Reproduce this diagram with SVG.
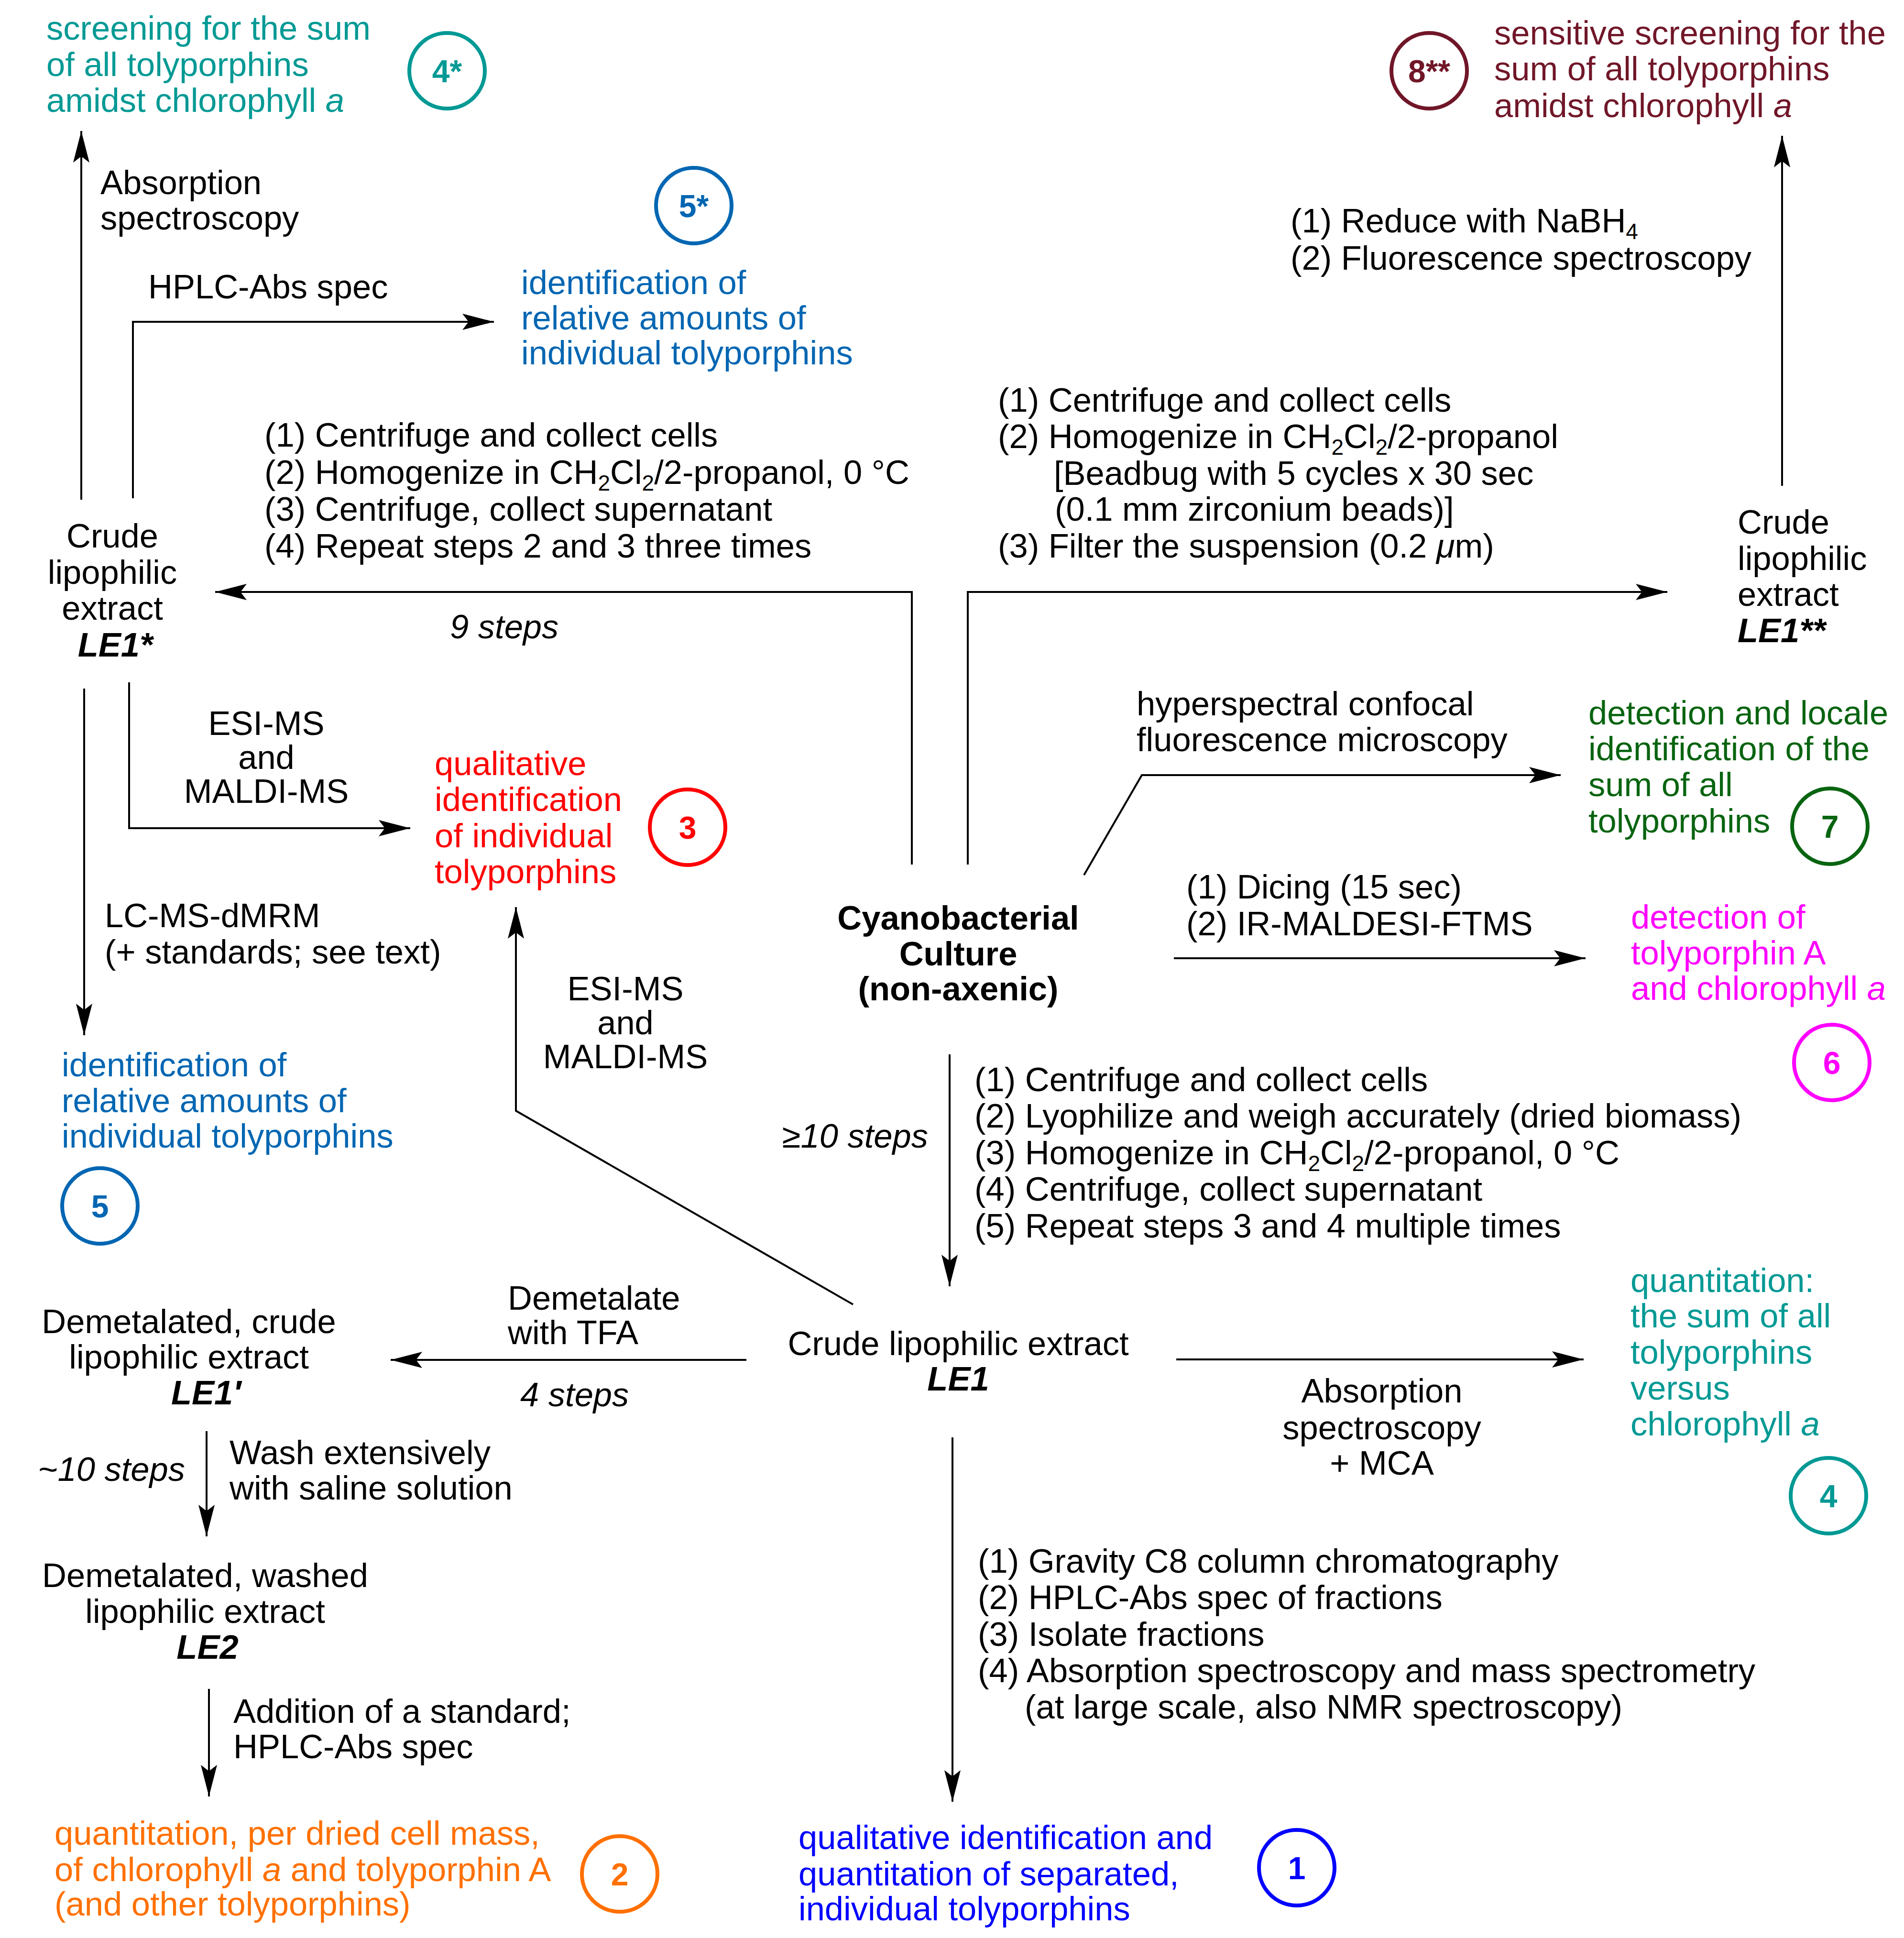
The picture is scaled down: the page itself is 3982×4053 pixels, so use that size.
<svg xmlns="http://www.w3.org/2000/svg" width="3982" height="4053" viewBox="0 0 3982 4053">
<style>
text{font-family:"Liberation Sans",Arial,Helvetica,sans-serif;font-size:70.5px;fill:#000}
.i{font-style:italic}
.b{font-weight:bold}
.bi{font-weight:bold;font-style:italic}
.m{text-anchor:middle}
.e{text-anchor:end}
.sub{font-size:46px}
.num{font-weight:bold;font-size:66px;text-anchor:middle}
.ring{fill:none;stroke-width:8}
.conn path{fill:none;stroke:#000;stroke-width:4}
.teal{fill:#009994}.teal-s{stroke:#009994}
.blue5{fill:#0066b2}.blue5-s{stroke:#0066b2}
.red{fill:#ff0000}.red-s{stroke:#ff0000}
.dred{fill:#701628}.dred-s{stroke:#701628}
.green{fill:#086410}.green-s{stroke:#086410}
.mag{fill:#ff00ff}.mag-s{stroke:#ff00ff}
.orange{fill:#ff7000}.orange-s{stroke:#ff7000}
.blue1{fill:#0000ff}.blue1-s{stroke:#0000ff}
</style>
<defs>
<marker id="ah" markerWidth="72" markerHeight="40" viewBox="-70 -20 72 40" refX="0" refY="0" orient="auto" markerUnits="userSpaceOnUse">
<path d="M0,0 L-66,-17 L-53,0 L-66,17 Z" fill="#000"/>
</marker>
</defs>

<g id="connectors" class="conn">
<path d="M170,1045 V274" marker-end="url(#ah)"/>
<path d="M278,1042 V673 H1033" marker-end="url(#ah)"/>
<path d="M1907,1808 V1238 H450" marker-end="url(#ah)"/>
<path d="M2024,1808 V1238 H3487" marker-end="url(#ah)"/>
<path d="M3727,1016 V284" marker-end="url(#ah)"/>
<path d="M176,1440 V2165" marker-end="url(#ah)"/>
<path d="M270,1427 V1732 H858" marker-end="url(#ah)"/>
<path d="M1784,2728 L1079,2323 V1897" marker-end="url(#ah)"/>
<path d="M2267,1830 L2388,1621 H3264" marker-end="url(#ah)"/>
<path d="M2455,2004 H3316" marker-end="url(#ah)"/>
<path d="M1986,2205 V2690" marker-end="url(#ah)"/>
<path d="M1561,2844 H817" marker-end="url(#ah)"/>
<path d="M2460,2843 H3312" marker-end="url(#ah)"/>
<path d="M1992,3006 V3768" marker-end="url(#ah)"/>
<path d="M432,2993 V3213" marker-end="url(#ah)"/>
<path d="M437,3532 V3757" marker-end="url(#ah)"/>
</g>

<g id="culture">
<text class="b m" x="2004" y="1944">Cyanobacterial</text>
<text class="b m" x="2004" y="2019">Culture</text>
<text class="b m" x="2004" y="2092">(non-axenic)</text>
</g>

<g id="LE1star">
<text class="m" x="235" y="1145">Crude</text>
<text class="m" x="235" y="1221">lipophilic</text>
<text class="m" x="235" y="1296">extract</text>
<text class="bi m" x="241" y="1373">LE1*</text>
</g>

<g id="LE1dstar">
<text x="3634" y="1116">Crude</text>
<text x="3634" y="1192">lipophilic</text>
<text x="3634" y="1267">extract</text>
<text class="bi" x="3634" y="1343">LE1**</text>
</g>

<g id="LE1">
<text class="m" x="2004" y="2834">Crude lipophilic extract</text>
<text class="bi m" x="2004" y="2908">LE1</text>
</g>

<g id="LE1prime">
<text class="m" x="395" y="2788">Demetalated, crude</text>
<text class="m" x="395" y="2862">lipophilic extract</text>
<text class="bi m" x="431" y="2937">LE1′</text>
</g>

<g id="LE2">
<text class="m" x="429" y="3319">Demetalated, washed</text>
<text class="m" x="429" y="3394">lipophilic extract</text>
<text class="bi m" x="434" y="3469">LE2</text>
</g>

<g id="labels">
<text x="210" y="406">Absorption</text>
<text x="210" y="480">spectroscopy</text>
<text x="310" y="624">HPLC-Abs spec</text>
<text x="553" y="934">(1) Centrifuge and collect cells</text>
<text x="553" y="1012">(2) Homogenize in CH<tspan class="sub" dy="14">2</tspan><tspan dy="-14">Cl</tspan><tspan class="sub" dy="14">2</tspan><tspan dy="-14">/2-propanol, 0 °C</tspan></text>
<text x="553" y="1089">(3) Centrifuge, collect supernatant</text>
<text x="553" y="1166">(4) Repeat steps 2 and 3 three times</text>
<text class="i" x="941" y="1335">9 steps</text>
<text x="2087" y="861">(1) Centrifuge and collect cells</text>
<text x="2087" y="937">(2) Homogenize in CH<tspan class="sub" dy="14">2</tspan><tspan dy="-14">Cl</tspan><tspan class="sub" dy="14">2</tspan><tspan dy="-14">/2-propanol</tspan></text>
<text x="2204" y="1014">[Beadbug with 5 cycles x 30 sec</text>
<text x="2206" y="1089">(0.1 mm zirconium beads)]</text>
<text x="2087" y="1166">(3) Filter the suspension (0.2 <tspan class="i">μ</tspan>m)</text>
<text x="2699" y="486">(1) Reduce with NaBH<tspan class="sub" dy="14">4</tspan></text>
<text x="2699" y="564">(2) Fluorescence spectroscopy</text>
<text class="m" x="557" y="1537">ESI-MS</text>
<text class="m" x="557" y="1608">and</text>
<text class="m" x="557" y="1679">MALDI-MS</text>
<text x="219" y="1939">LC-MS-dMRM</text>
<text x="219" y="2015">(+ standards; see text)</text>
<text class="m" x="1308" y="2092">ESI-MS</text>
<text class="m" x="1308" y="2163">and</text>
<text class="m" x="1308" y="2234">MALDI-MS</text>
<text x="2377" y="1496">hyperspectral confocal</text>
<text x="2377" y="1571">fluorescence microscopy</text>
<text x="2481" y="1879">(1) Dicing (15 sec)</text>
<text x="2481" y="1956">(2) IR-MALDESI-FTMS</text>
<text class="i e" x="1941" y="2400">≥10 steps</text>
<text x="2038" y="2282">(1) Centrifuge and collect cells</text>
<text x="2038" y="2358">(2) Lyophilize and weigh accurately (dried biomass)</text>
<text x="2038" y="2435">(3) Homogenize in CH<tspan class="sub" dy="14">2</tspan><tspan dy="-14">Cl</tspan><tspan class="sub" dy="14">2</tspan><tspan dy="-14">/2-propanol, 0 °C</tspan></text>
<text x="2038" y="2511">(4) Centrifuge, collect supernatant</text>
<text x="2038" y="2588">(5) Repeat steps 3 and 4 multiple times</text>
<text x="1062" y="2739">Demetalate</text>
<text x="1062" y="2811">with TFA</text>
<text class="i" x="1088" y="2941">4 steps</text>
<text class="i e" x="387" y="3097">~10 steps</text>
<text x="480" y="3062">Wash extensively</text>
<text x="480" y="3136">with saline solution</text>
<text x="488" y="3603">Addition of a standard;</text>
<text x="488" y="3677">HPLC-Abs spec</text>
<text class="m" x="2890" y="2933">Absorption</text>
<text class="m" x="2890" y="3010">spectroscopy</text>
<text class="m" x="2890" y="3084">+ MCA</text>
<text x="2045" y="3289">(1) Gravity C8 column chromatography</text>
<text x="2045" y="3365">(2) HPLC-Abs spec of fractions</text>
<text x="2045" y="3442">(3) Isolate fractions</text>
<text x="2045" y="3518">(4) Absorption spectroscopy and mass spectrometry</text>
<text x="2143" y="3594">(at large scale, also NMR spectroscopy)</text>
</g>

<g id="out4star">
<text class="teal" x="97" y="83">screening for the sum</text>
<text class="teal" x="97" y="159">of all tolyporphins</text>
<text class="teal" x="97" y="234">amidst chlorophyll <tspan class="i">a</tspan></text>
<circle class="ring teal-s" cx="935" cy="148" r="79"/>
<text class="num teal" x="935" y="172">4*</text>
</g>

<g id="out5star">
<text class="blue5" x="1090" y="615">identification of</text>
<text class="blue5" x="1090" y="689">relative amounts of</text>
<text class="blue5" x="1090" y="762">individual tolyporphins</text>
<circle class="ring blue5-s" cx="1451" cy="430" r="79"/>
<text class="num blue5" x="1451" y="454">5*</text>
</g>

<g id="out8">
<text class="dred" x="3125" y="93">sensitive screening for the</text>
<text class="dred" x="3125" y="168">sum of all tolyporphins</text>
<text class="dred" x="3125" y="245">amidst chlorophyll <tspan class="i">a</tspan></text>
<circle class="ring dred-s" cx="2989" cy="148" r="79"/>
<text class="num dred" x="2989" y="172">8**</text>
</g>

<g id="out3">
<text class="red" x="909" y="1621">qualitative</text>
<text class="red" x="909" y="1696">identification</text>
<text class="red" x="909" y="1772">of individual</text>
<text class="red" x="909" y="1847">tolyporphins</text>
<circle class="ring red-s" cx="1438" cy="1730" r="79"/>
<text class="num red" x="1438" y="1754">3</text>
</g>

<g id="out5">
<text class="blue5" x="129" y="2251">identification of</text>
<text class="blue5" x="129" y="2326">relative amounts of</text>
<text class="blue5" x="129" y="2400">individual tolyporphins</text>
<circle class="ring blue5-s" cx="209" cy="2522" r="79"/>
<text class="num blue5" x="209" y="2546">5</text>
</g>

<g id="out7">
<text class="green" x="3322" y="1515">detection and locale</text>
<text class="green" x="3322" y="1590">identification of the</text>
<text class="green" x="3322" y="1665">sum of all</text>
<text class="green" x="3322" y="1741">tolyporphins</text>
<circle class="ring green-s" cx="3827" cy="1728" r="79"/>
<text class="num green" x="3827" y="1752">7</text>
</g>

<g id="out6">
<text class="mag" x="3411" y="1942">detection of</text>
<text class="mag" x="3411" y="2017">tolyporphin A</text>
<text class="mag" x="3411" y="2091">and chlorophyll <tspan class="i">a</tspan></text>
<circle class="ring mag-s" cx="3831" cy="2222" r="79"/>
<text class="num mag" x="3831" y="2246">6</text>
</g>

<g id="out4">
<text class="teal" x="3410" y="2702">quantitation:</text>
<text class="teal" x="3410" y="2776">the sum of all</text>
<text class="teal" x="3410" y="2852">tolyporphins</text>
<text class="teal" x="3410" y="2927">versus</text>
<text class="teal" x="3410" y="3002">chlorophyll <tspan class="i">a</tspan></text>
<circle class="ring teal-s" cx="3824" cy="3128" r="79"/>
<text class="num teal" x="3824" y="3152">4</text>
</g>

<g id="out2">
<text class="orange" x="114" y="3858">quantitation, per dried cell mass,</text>
<text class="orange" x="114" y="3934">of chlorophyll <tspan class="i">a</tspan> and tolyporphin A</text>
<text class="orange" x="114" y="4006">(and other tolyporphins)</text>
<circle class="ring orange-s" cx="1296" cy="3919" r="79"/>
<text class="num orange" x="1296" y="3943">2</text>
</g>

<g id="out1">
<text class="blue1" x="1670" y="3867">qualitative identification and</text>
<text class="blue1" x="1670" y="3943">quantitation of separated,</text>
<text class="blue1" x="1670" y="4016">individual tolyporphins</text>
<circle class="ring blue1-s" cx="2712" cy="3906" r="79"/>
<text class="num blue1" x="2712" y="3930">1</text>
</g>
</svg>
